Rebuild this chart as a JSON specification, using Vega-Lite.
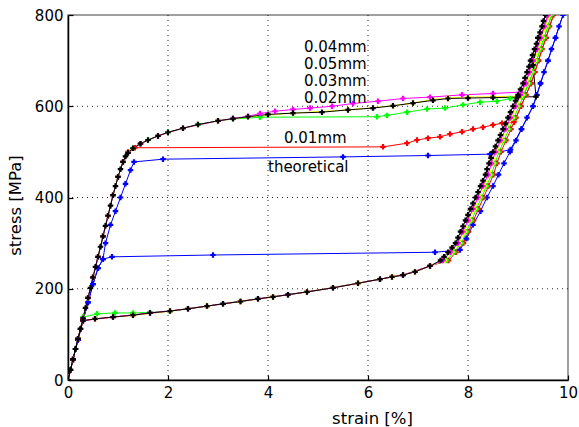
{
"$schema": "https://vega.github.io/schema/vega-lite/v6.json",
"width": 500, "height": 365,
"autosize": {"type": "none"},
"padding": {"left": 68, "top": 15, "right": 11, "bottom": 47},
"background": "white",
"config": {
  "font": "DejaVu Sans",
  "view": {"stroke": "#808080", "strokeWidth": 1.5},
  "axis": {"labelFont": "DejaVu Sans", "titleFont": "DejaVu Sans", "labelFontSize": 15, "titleFontSize": 16.5, "labelColor": "black", "titleColor": "black", "titleFontWeight": "normal", "domainColor": "black", "domainWidth": 1.5, "tickColor": "black", "tickWidth": 1.2, "tickSize": -5, "labelPadding": 10}
},
"datasets": {
  "curves": [
    {"s":"theoretical","x":0,"y":0},{"s":"theoretical","x":0.1,"y":45},{"s":"theoretical","x":0.2,"y":88},{"s":"theoretical","x":0.3,"y":130},{"s":"theoretical","x":0.4,"y":170},{"s":"theoretical","x":0.5,"y":210},{"s":"theoretical","x":0.6,"y":245},{"s":"theoretical","x":0.7,"y":265},{"s":"theoretical","x":0.75,"y":300},{"s":"theoretical","x":0.85,"y":340},{"s":"theoretical","x":0.95,"y":370},{"s":"theoretical","x":1.05,"y":400},{"s":"theoretical","x":1.15,"y":430},{"s":"theoretical","x":1.25,"y":460},{"s":"theoretical","x":1.32,"y":478},{"s":"theoretical","x":1.9,"y":484},{"s":"theoretical","x":5.5,"y":489},{"s":"theoretical","x":7.2,"y":492},{"s":"theoretical","x":8.44,"y":495},{"s":"theoretical","x":8.85,"y":505},{"s":"theoretical","x":9.07,"y":550},{"s":"theoretical","x":9.3,"y":600},{"s":"theoretical","x":9.45,"y":650},{"s":"theoretical","x":9.6,"y":700},{"s":"theoretical","x":9.75,"y":750},{"s":"theoretical","x":9.9,"y":800},{"s":"theoretical","x":9.82,"y":775},{"s":"theoretical","x":9.75,"y":750},{"s":"theoretical","x":9.67,"y":725},{"s":"theoretical","x":9.6,"y":700},{"s":"theoretical","x":9.52,"y":675},{"s":"theoretical","x":9.45,"y":650},{"s":"theoretical","x":9.38,"y":625},{"s":"theoretical","x":9.3,"y":600},{"s":"theoretical","x":9.18,"y":575},{"s":"theoretical","x":9.07,"y":550},{"s":"theoretical","x":8.96,"y":525},{"s":"theoretical","x":8.84,"y":500},{"s":"theoretical","x":8.72,"y":475},{"s":"theoretical","x":8.61,"y":450},{"s":"theoretical","x":8.5,"y":425},{"s":"theoretical","x":8.38,"y":400},{"s":"theoretical","x":8.25,"y":370},{"s":"theoretical","x":8.1,"y":340},{"s":"theoretical","x":7.97,"y":310},{"s":"theoretical","x":7.84,"y":285},{"s":"theoretical","x":7.34,"y":280},{"s":"theoretical","x":2.9,"y":274},{"s":"theoretical","x":0.88,"y":270},{"s":"theoretical","x":0.7,"y":265},{"s":"theoretical","x":0.6,"y":245},{"s":"theoretical","x":0.5,"y":210},{"s":"theoretical","x":0.4,"y":170},{"s":"theoretical","x":0.3,"y":130},{"s":"theoretical","x":0.2,"y":88},{"s":"theoretical","x":0.1,"y":45},{"s":"theoretical","x":0,"y":0},

    {"s":"0.01mm","x":0,"y":0},{"s":"0.01mm","x":0.1,"y":45},{"s":"0.01mm","x":0.2,"y":90},{"s":"0.01mm","x":0.3,"y":135},{"s":"0.01mm","x":0.4,"y":180},{"s":"0.01mm","x":0.5,"y":225},{"s":"0.01mm","x":0.6,"y":270},{"s":"0.01mm","x":0.7,"y":315},{"s":"0.01mm","x":0.8,"y":360},{"s":"0.01mm","x":0.9,"y":405},{"s":"0.01mm","x":1.0,"y":445},{"s":"0.01mm","x":1.1,"y":478},{"s":"0.01mm","x":1.2,"y":500},{"s":"0.01mm","x":1.34,"y":509},{"s":"0.01mm","x":6.3,"y":511},{"s":"0.01mm","x":6.78,"y":519},{"s":"0.01mm","x":6.98,"y":526},{"s":"0.01mm","x":7.2,"y":530},{"s":"0.01mm","x":7.44,"y":533},{"s":"0.01mm","x":7.64,"y":539},{"s":"0.01mm","x":7.88,"y":544},{"s":"0.01mm","x":8.1,"y":550},{"s":"0.01mm","x":8.3,"y":554},{"s":"0.01mm","x":8.5,"y":559},{"s":"0.01mm","x":8.68,"y":563},{"s":"0.01mm","x":8.92,"y":565},{"s":"0.01mm","x":9.06,"y":600},{"s":"0.01mm","x":9.26,"y":650},{"s":"0.01mm","x":9.41,"y":700},{"s":"0.01mm","x":9.56,"y":750},{"s":"0.01mm","x":9.71,"y":800},{"s":"0.01mm","x":9.63,"y":775},{"s":"0.01mm","x":9.56,"y":750},{"s":"0.01mm","x":9.48,"y":725},{"s":"0.01mm","x":9.41,"y":700},{"s":"0.01mm","x":9.34,"y":675},{"s":"0.01mm","x":9.26,"y":650},{"s":"0.01mm","x":9.16,"y":625},{"s":"0.01mm","x":9.06,"y":600},{"s":"0.01mm","x":8.96,"y":575},{"s":"0.01mm","x":8.86,"y":550},{"s":"0.01mm","x":8.76,"y":525},{"s":"0.01mm","x":8.66,"y":500},{"s":"0.01mm","x":8.58,"y":475},{"s":"0.01mm","x":8.51,"y":450},{"s":"0.01mm","x":8.41,"y":425},{"s":"0.01mm","x":8.31,"y":400},{"s":"0.01mm","x":8.21,"y":375},{"s":"0.01mm","x":8.11,"y":350},{"s":"0.01mm","x":8.01,"y":325},{"s":"0.01mm","x":7.91,"y":300},{"s":"0.01mm","x":7.76,"y":280},{"s":"0.01mm","x":7.61,"y":262},{"s":"0.01mm","x":7.24,"y":250},{"s":"0.01mm","x":6.94,"y":237},{"s":"0.01mm","x":6.48,"y":226},{"s":"0.01mm","x":5.8,"y":212},{"s":"0.01mm","x":4.78,"y":193},{"s":"0.01mm","x":4.1,"y":182},{"s":"0.01mm","x":3.45,"y":172},{"s":"0.01mm","x":2.78,"y":162},{"s":"0.01mm","x":2.04,"y":151},{"s":"0.01mm","x":1.3,"y":142},{"s":"0.01mm","x":0.54,"y":134},{"s":"0.01mm","x":0.3,"y":130},{"s":"0.01mm","x":0.2,"y":90},{"s":"0.01mm","x":0.1,"y":45},{"s":"0.01mm","x":0,"y":0},

    {"s":"0.02mm","x":0,"y":0},{"s":"0.02mm","x":0.1,"y":45},{"s":"0.02mm","x":0.2,"y":90},{"s":"0.02mm","x":0.3,"y":135},{"s":"0.02mm","x":0.4,"y":180},{"s":"0.02mm","x":0.5,"y":225},{"s":"0.02mm","x":0.6,"y":270},{"s":"0.02mm","x":0.7,"y":315},{"s":"0.02mm","x":0.8,"y":360},{"s":"0.02mm","x":0.9,"y":405},{"s":"0.02mm","x":1.0,"y":445},{"s":"0.02mm","x":1.1,"y":478},{"s":"0.02mm","x":1.2,"y":498},{"s":"0.02mm","x":1.3,"y":508},{"s":"0.02mm","x":1.6,"y":526},{"s":"0.02mm","x":2.0,"y":543},{"s":"0.02mm","x":2.6,"y":560},{"s":"0.02mm","x":3.0,"y":568},{"s":"0.02mm","x":3.3,"y":572},{"s":"0.02mm","x":3.84,"y":576},{"s":"0.02mm","x":6.18,"y":577},{"s":"0.02mm","x":6.38,"y":580},{"s":"0.02mm","x":6.78,"y":587},{"s":"0.02mm","x":7.18,"y":594},{"s":"0.02mm","x":7.54,"y":596},{"s":"0.02mm","x":7.9,"y":603},{"s":"0.02mm","x":8.24,"y":609},{"s":"0.02mm","x":8.58,"y":611},{"s":"0.02mm","x":8.84,"y":617},{"s":"0.02mm","x":9.08,"y":620},{"s":"0.02mm","x":9.22,"y":650},{"s":"0.02mm","x":9.37,"y":700},{"s":"0.02mm","x":9.52,"y":750},{"s":"0.02mm","x":9.67,"y":800},{"s":"0.02mm","x":9.6,"y":775},{"s":"0.02mm","x":9.52,"y":750},{"s":"0.02mm","x":9.45,"y":725},{"s":"0.02mm","x":9.37,"y":700},{"s":"0.02mm","x":9.3,"y":675},{"s":"0.02mm","x":9.22,"y":650},{"s":"0.02mm","x":9.12,"y":625},{"s":"0.02mm","x":9.02,"y":600},{"s":"0.02mm","x":8.92,"y":575},{"s":"0.02mm","x":8.82,"y":550},{"s":"0.02mm","x":8.72,"y":525},{"s":"0.02mm","x":8.62,"y":500},{"s":"0.02mm","x":8.54,"y":475},{"s":"0.02mm","x":8.47,"y":450},{"s":"0.02mm","x":8.37,"y":425},{"s":"0.02mm","x":8.27,"y":400},{"s":"0.02mm","x":8.17,"y":375},{"s":"0.02mm","x":8.07,"y":350},{"s":"0.02mm","x":7.97,"y":325},{"s":"0.02mm","x":7.87,"y":300},{"s":"0.02mm","x":7.72,"y":280},{"s":"0.02mm","x":7.57,"y":262},{"s":"0.02mm","x":7.24,"y":250},{"s":"0.02mm","x":6.7,"y":230},{"s":"0.02mm","x":6.24,"y":221},{"s":"0.02mm","x":5.3,"y":202},{"s":"0.02mm","x":4.4,"y":187},{"s":"0.02mm","x":3.8,"y":178},{"s":"0.02mm","x":3.1,"y":167},{"s":"0.02mm","x":2.4,"y":156},{"s":"0.02mm","x":2.04,"y":151},{"s":"0.02mm","x":1.64,"y":148},{"s":"0.02mm","x":1.3,"y":147},{"s":"0.02mm","x":0.94,"y":147},{"s":"0.02mm","x":0.58,"y":145},{"s":"0.02mm","x":0.3,"y":138},{"s":"0.02mm","x":0.2,"y":90},{"s":"0.02mm","x":0.1,"y":45},{"s":"0.02mm","x":0,"y":0},

    {"s":"0.03mm","x":0,"y":0},{"s":"0.03mm","x":0.1,"y":45},{"s":"0.03mm","x":0.2,"y":90},{"s":"0.03mm","x":0.3,"y":135},{"s":"0.03mm","x":0.4,"y":180},{"s":"0.03mm","x":0.5,"y":225},{"s":"0.03mm","x":0.6,"y":270},{"s":"0.03mm","x":0.7,"y":315},{"s":"0.03mm","x":0.8,"y":360},{"s":"0.03mm","x":0.9,"y":405},{"s":"0.03mm","x":1.0,"y":445},{"s":"0.03mm","x":1.1,"y":478},{"s":"0.03mm","x":1.2,"y":498},{"s":"0.03mm","x":1.45,"y":518},{"s":"0.03mm","x":1.8,"y":535},{"s":"0.03mm","x":2.3,"y":552},{"s":"0.03mm","x":3.0,"y":568},{"s":"0.03mm","x":3.6,"y":577},{"s":"0.03mm","x":4.5,"y":585},{"s":"0.03mm","x":5.6,"y":592},{"s":"0.03mm","x":6.5,"y":601},{"s":"0.03mm","x":6.9,"y":607},{"s":"0.03mm","x":7.3,"y":615},{"s":"0.03mm","x":7.6,"y":618},{"s":"0.03mm","x":8.0,"y":620},{"s":"0.03mm","x":8.5,"y":621},{"s":"0.03mm","x":9.05,"y":622},{"s":"0.03mm","x":9.18,"y":650},{"s":"0.03mm","x":9.33,"y":700},{"s":"0.03mm","x":9.48,"y":750},{"s":"0.03mm","x":9.63,"y":800},{"s":"0.03mm","x":9.56,"y":775},{"s":"0.03mm","x":9.48,"y":750},{"s":"0.03mm","x":9.41,"y":725},{"s":"0.03mm","x":9.33,"y":700},{"s":"0.03mm","x":9.26,"y":675},{"s":"0.03mm","x":9.18,"y":650},{"s":"0.03mm","x":9.08,"y":625},{"s":"0.03mm","x":8.98,"y":600},{"s":"0.03mm","x":8.88,"y":575},{"s":"0.03mm","x":8.78,"y":550},{"s":"0.03mm","x":8.68,"y":525},{"s":"0.03mm","x":8.58,"y":500},{"s":"0.03mm","x":8.5,"y":475},{"s":"0.03mm","x":8.43,"y":450},{"s":"0.03mm","x":8.33,"y":425},{"s":"0.03mm","x":8.23,"y":400},{"s":"0.03mm","x":8.13,"y":375},{"s":"0.03mm","x":8.03,"y":350},{"s":"0.03mm","x":7.93,"y":325},{"s":"0.03mm","x":7.83,"y":300},{"s":"0.03mm","x":7.68,"y":280},{"s":"0.03mm","x":7.53,"y":262},{"s":"0.03mm","x":7.24,"y":250},{"s":"0.03mm","x":6.94,"y":237},{"s":"0.03mm","x":6.48,"y":226},{"s":"0.03mm","x":5.8,"y":212},{"s":"0.03mm","x":4.78,"y":193},{"s":"0.03mm","x":4.1,"y":182},{"s":"0.03mm","x":3.45,"y":172},{"s":"0.03mm","x":2.78,"y":162},{"s":"0.03mm","x":2.04,"y":151},{"s":"0.03mm","x":1.3,"y":142},{"s":"0.03mm","x":0.54,"y":134},{"s":"0.03mm","x":0.3,"y":130},{"s":"0.03mm","x":0.2,"y":90},{"s":"0.03mm","x":0.1,"y":45},{"s":"0.03mm","x":0,"y":0},

    {"s":"0.04mm","x":0,"y":0},{"s":"0.04mm","x":0.1,"y":45},{"s":"0.04mm","x":0.2,"y":90},{"s":"0.04mm","x":0.3,"y":135},{"s":"0.04mm","x":0.4,"y":180},{"s":"0.04mm","x":0.5,"y":225},{"s":"0.04mm","x":0.6,"y":270},{"s":"0.04mm","x":0.7,"y":315},{"s":"0.04mm","x":0.8,"y":360},{"s":"0.04mm","x":0.9,"y":405},{"s":"0.04mm","x":1.0,"y":445},{"s":"0.04mm","x":1.1,"y":478},{"s":"0.04mm","x":1.2,"y":498},{"s":"0.04mm","x":1.45,"y":518},{"s":"0.04mm","x":1.8,"y":535},{"s":"0.04mm","x":2.3,"y":552},{"s":"0.04mm","x":3.0,"y":568},{"s":"0.04mm","x":3.3,"y":573},{"s":"0.04mm","x":3.6,"y":578},{"s":"0.04mm","x":3.84,"y":584},{"s":"0.04mm","x":4.14,"y":589},{"s":"0.04mm","x":4.5,"y":593},{"s":"0.04mm","x":4.84,"y":596},{"s":"0.04mm","x":5.28,"y":600},{"s":"0.04mm","x":5.7,"y":606},{"s":"0.04mm","x":6.2,"y":611},{"s":"0.04mm","x":6.7,"y":617},{"s":"0.04mm","x":7.24,"y":620},{"s":"0.04mm","x":7.88,"y":625},{"s":"0.04mm","x":8.5,"y":628},{"s":"0.04mm","x":9.05,"y":631},{"s":"0.04mm","x":9.15,"y":650},{"s":"0.04mm","x":9.3,"y":700},{"s":"0.04mm","x":9.45,"y":750},{"s":"0.04mm","x":9.6,"y":800},{"s":"0.04mm","x":9.53,"y":775},{"s":"0.04mm","x":9.45,"y":750},{"s":"0.04mm","x":9.38,"y":725},{"s":"0.04mm","x":9.3,"y":700},{"s":"0.04mm","x":9.23,"y":675},{"s":"0.04mm","x":9.15,"y":650},{"s":"0.04mm","x":9.05,"y":625},{"s":"0.04mm","x":8.95,"y":600},{"s":"0.04mm","x":8.85,"y":575},{"s":"0.04mm","x":8.75,"y":550},{"s":"0.04mm","x":8.65,"y":525},{"s":"0.04mm","x":8.55,"y":500},{"s":"0.04mm","x":8.47,"y":475},{"s":"0.04mm","x":8.4,"y":450},{"s":"0.04mm","x":8.3,"y":425},{"s":"0.04mm","x":8.2,"y":400},{"s":"0.04mm","x":8.1,"y":375},{"s":"0.04mm","x":8.0,"y":350},{"s":"0.04mm","x":7.9,"y":325},{"s":"0.04mm","x":7.8,"y":300},{"s":"0.04mm","x":7.65,"y":280},{"s":"0.04mm","x":7.5,"y":262},{"s":"0.04mm","x":7.24,"y":250},{"s":"0.04mm","x":6.7,"y":230},{"s":"0.04mm","x":6.24,"y":221},{"s":"0.04mm","x":5.3,"y":202},{"s":"0.04mm","x":4.4,"y":187},{"s":"0.04mm","x":3.8,"y":178},{"s":"0.04mm","x":3.1,"y":167},{"s":"0.04mm","x":2.4,"y":156},{"s":"0.04mm","x":1.64,"y":147},{"s":"0.04mm","x":0.9,"y":138},{"s":"0.04mm","x":0.3,"y":130},{"s":"0.04mm","x":0.2,"y":90},{"s":"0.04mm","x":0.1,"y":45},{"s":"0.04mm","x":0,"y":0},

    {"s":"0.05mm","x":0,"y":0},{"s":"0.05mm","x":0.05,"y":22},{"s":"0.05mm","x":0.1,"y":45},{"s":"0.05mm","x":0.15,"y":68},{"s":"0.05mm","x":0.2,"y":90},{"s":"0.05mm","x":0.25,"y":112},{"s":"0.05mm","x":0.3,"y":135},{"s":"0.05mm","x":0.35,"y":158},{"s":"0.05mm","x":0.4,"y":180},{"s":"0.05mm","x":0.45,"y":202},{"s":"0.05mm","x":0.5,"y":225},{"s":"0.05mm","x":0.55,"y":248},{"s":"0.05mm","x":0.6,"y":270},{"s":"0.05mm","x":0.65,"y":292},{"s":"0.05mm","x":0.7,"y":315},{"s":"0.05mm","x":0.75,"y":338},{"s":"0.05mm","x":0.8,"y":360},{"s":"0.05mm","x":0.85,"y":382},{"s":"0.05mm","x":0.9,"y":405},{"s":"0.05mm","x":0.95,"y":425},{"s":"0.05mm","x":1.0,"y":445},{"s":"0.05mm","x":1.05,"y":462},{"s":"0.05mm","x":1.1,"y":478},{"s":"0.05mm","x":1.15,"y":490},{"s":"0.05mm","x":1.2,"y":498},{"s":"0.05mm","x":1.3,"y":508},{"s":"0.05mm","x":1.45,"y":518},{"s":"0.05mm","x":1.6,"y":526},{"s":"0.05mm","x":1.8,"y":535},{"s":"0.05mm","x":2.0,"y":543},{"s":"0.05mm","x":2.3,"y":552},{"s":"0.05mm","x":2.6,"y":560},{"s":"0.05mm","x":3.0,"y":568},{"s":"0.05mm","x":3.3,"y":573},{"s":"0.05mm","x":3.6,"y":577},{"s":"0.05mm","x":4.0,"y":582},{"s":"0.05mm","x":4.5,"y":585},{"s":"0.05mm","x":5.08,"y":587},{"s":"0.05mm","x":5.6,"y":592},{"s":"0.05mm","x":6.1,"y":596},{"s":"0.05mm","x":6.5,"y":601},{"s":"0.05mm","x":6.9,"y":607},{"s":"0.05mm","x":7.3,"y":613},{"s":"0.05mm","x":7.6,"y":617},{"s":"0.05mm","x":8.0,"y":618},{"s":"0.05mm","x":8.5,"y":619},{"s":"0.05mm","x":9.0,"y":620},{"s":"0.05mm","x":9.36,"y":621},{"s":"0.05mm","x":9.3,"y":690},{"s":"0.05mm","x":9.4,"y":750},{"s":"0.05mm","x":9.55,"y":800},{"s":"0.05mm","x":9.51,"y":787},{"s":"0.05mm","x":9.48,"y":775},{"s":"0.05mm","x":9.44,"y":762},{"s":"0.05mm","x":9.4,"y":750},{"s":"0.05mm","x":9.37,"y":737},{"s":"0.05mm","x":9.33,"y":725},{"s":"0.05mm","x":9.29,"y":712},{"s":"0.05mm","x":9.25,"y":700},{"s":"0.05mm","x":9.22,"y":687},{"s":"0.05mm","x":9.18,"y":675},{"s":"0.05mm","x":9.14,"y":662},{"s":"0.05mm","x":9.1,"y":650},{"s":"0.05mm","x":9.05,"y":637},{"s":"0.05mm","x":9.0,"y":625},{"s":"0.05mm","x":8.95,"y":612},{"s":"0.05mm","x":8.9,"y":600},{"s":"0.05mm","x":8.85,"y":587},{"s":"0.05mm","x":8.8,"y":575},{"s":"0.05mm","x":8.75,"y":562},{"s":"0.05mm","x":8.7,"y":550},{"s":"0.05mm","x":8.65,"y":537},{"s":"0.05mm","x":8.6,"y":525},{"s":"0.05mm","x":8.55,"y":512},{"s":"0.05mm","x":8.5,"y":500},{"s":"0.05mm","x":8.46,"y":487},{"s":"0.05mm","x":8.42,"y":475},{"s":"0.05mm","x":8.38,"y":462},{"s":"0.05mm","x":8.35,"y":450},{"s":"0.05mm","x":8.3,"y":437},{"s":"0.05mm","x":8.25,"y":425},{"s":"0.05mm","x":8.2,"y":412},{"s":"0.05mm","x":8.15,"y":400},{"s":"0.05mm","x":8.1,"y":387},{"s":"0.05mm","x":8.05,"y":375},{"s":"0.05mm","x":8.0,"y":362},{"s":"0.05mm","x":7.95,"y":350},{"s":"0.05mm","x":7.9,"y":337},{"s":"0.05mm","x":7.85,"y":325},{"s":"0.05mm","x":7.8,"y":312},{"s":"0.05mm","x":7.75,"y":300},{"s":"0.05mm","x":7.68,"y":290},{"s":"0.05mm","x":7.6,"y":280},{"s":"0.05mm","x":7.52,"y":270},{"s":"0.05mm","x":7.45,"y":262},{"s":"0.05mm","x":7.24,"y":250},{"s":"0.05mm","x":6.94,"y":237},{"s":"0.05mm","x":6.7,"y":230},{"s":"0.05mm","x":6.48,"y":226},{"s":"0.05mm","x":6.24,"y":221},{"s":"0.05mm","x":5.8,"y":212},{"s":"0.05mm","x":5.3,"y":202},{"s":"0.05mm","x":4.78,"y":193},{"s":"0.05mm","x":4.4,"y":187},{"s":"0.05mm","x":4.1,"y":182},{"s":"0.05mm","x":3.8,"y":178},{"s":"0.05mm","x":3.45,"y":172},{"s":"0.05mm","x":3.1,"y":167},{"s":"0.05mm","x":2.78,"y":162},{"s":"0.05mm","x":2.4,"y":156},{"s":"0.05mm","x":2.04,"y":151},{"s":"0.05mm","x":1.64,"y":147},{"s":"0.05mm","x":1.3,"y":142},{"s":"0.05mm","x":0.9,"y":138},{"s":"0.05mm","x":0.54,"y":134},{"s":"0.05mm","x":0.3,"y":130},{"s":"0.05mm","x":0.25,"y":112},{"s":"0.05mm","x":0.2,"y":90},{"s":"0.05mm","x":0.15,"y":68},{"s":"0.05mm","x":0.1,"y":45},{"s":"0.05mm","x":0.05,"y":22},{"s":"0.05mm","x":0,"y":0}
  ],
  "labels": [
    {"t":"0.04mm","x":4.72,"y":730},
    {"t":"0.05mm","x":4.72,"y":693},
    {"t":"0.03mm","x":4.72,"y":656},
    {"t":"0.02mm","x":4.72,"y":619},
    {"t":"0.01mm","x":4.32,"y":530},
    {"t":"theoretical","x":4.0,"y":467}
  ],
  "gridx": [{"v":2},{"v":4},{"v":6},{"v":8}],
  "gridy": [{"v":200},{"v":400},{"v":600}]
},
"layer": [
  {
    "data": {"name": "gridx"},
    "mark": {"type": "rule", "color": "#000000", "strokeWidth": 1, "strokeDash": [1, 4], "opacity": 0.85},
    "encoding": {"x": {"field": "v", "type": "quantitative"}}
  },
  {
    "data": {"name": "gridy"},
    "mark": {"type": "rule", "color": "#000000", "strokeWidth": 1, "strokeDash": [1, 4], "opacity": 0.85},
    "encoding": {"y": {"field": "v", "type": "quantitative"}}
  },
  {
    "data": {"name": "curves"},
    "mark": {"type": "line", "strokeWidth": 1, "clip": true, "point": {"shape": "cross", "size": 30, "filled": true}},
    "encoding": {
      "x": {"field": "x", "type": "quantitative", "scale": {"domain": [0, 10], "nice": false},
            "axis": {"values": [0, 2, 4, 6, 8, 10], "grid": false, "title": "strain [%]", "titleX": 304, "titleY": 38, "titleBaseline": "middle", "titleAlign": "center", "labelFlush": false}},
      "y": {"field": "y", "type": "quantitative", "scale": {"domain": [0, 800], "nice": false},
            "axis": {"values": [0, 200, 400, 600, 800], "grid": false, "title": "stress [MPa]", "titleX": -53, "titleY": 190, "titleBaseline": "middle", "titleAlign": "center", "labelFlush": false}},
      "color": {"field": "s", "type": "nominal", "legend": null,
        "scale": {"domain": ["theoretical", "0.01mm", "0.02mm", "0.03mm", "0.04mm", "0.05mm"], "range": ["#0000ff", "#ff0000", "#00ff00", "#ffff00", "#ff00ff", "#000000"]}},
      "order": {"value": null}
    }
  },
  {
    "data": {"name": "labels"},
    "mark": {"type": "text", "align": "left", "baseline": "middle", "fontSize": 15, "font": "DejaVu Sans", "color": "black"},
    "encoding": {
      "x": {"field": "x", "type": "quantitative"},
      "y": {"field": "y", "type": "quantitative"},
      "text": {"field": "t"}
    }
  }
]
}
